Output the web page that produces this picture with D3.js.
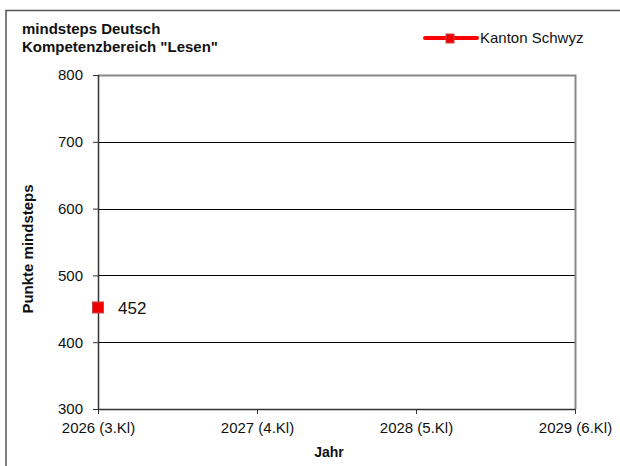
<!DOCTYPE html>
<html><head><meta charset="utf-8">
<script src="https://cdn.jsdelivr.net/npm/d3@7"></script>
<style>body{margin:0;background:#fff}svg{display:block;font-family:"Liberation Sans",Arial,sans-serif}</style>
</head><body><svg id="c" width="620" height="466"></svg>
<script>
const categories = ["2026 (3.Kl)", "2027 (4.Kl)", "2028 (5.Kl)", "2029 (6.Kl)"];
const seriesName = "Kanton Schwyz";
const seriesValues = [452, null, null, null];
const yTicks = [300, 400, 500, 600, 700, 800];
const titleLines = ["mindsteps Deutsch", "Kompetenzbereich \"Lesen\""];

const svg = d3.select("#c");
const L = 98, R = 575, T = 75, B = 409;
const x = d3.scalePoint().domain(categories).range([L, R]);
const y = d3.scaleLinear().domain([300, 800]).range([B, T]);

// outer frame
svg.append("path").attr("d", "M6,466 V10.5 H620").attr("fill", "none").attr("stroke", "#555").attr("stroke-width", 1.5);

// gridlines
svg.append("g").selectAll("line").data(yTicks.filter(d => d > 300 && d < 800)).join("line")
  .attr("x1", L).attr("x2", R).attr("y1", d => Math.round(y(d)) + 0.5).attr("y2", d => Math.round(y(d)) + 0.5)
  .attr("stroke", "#000").attr("stroke-width", 1);

// plot frame top/right (gray)
svg.append("path").attr("d", `M${L},${T + 0.5} H${R + 0.5} V${B}`).attr("fill", "none").attr("stroke", "#888").attr("stroke-width", 2);

// y axis
const yAxis = svg.append("g").attr("transform", `translate(${L},0)`)
  .call(d3.axisLeft(y).tickValues(yTicks).tickSize(5).tickPadding(10));
// x axis
const xAxis = svg.append("g").attr("transform", `translate(0,${B})`)
  .call(d3.axisBottom(x).tickSize(5).tickPadding(8));
[yAxis, xAxis].forEach(g => {
  g.select(".domain").attr("stroke", "#333").attr("stroke-width", 1.5);
  g.selectAll(".tick line").attr("stroke", "#333");
  g.selectAll("text").attr("font-size", 15).attr("fill", "#111").attr("font-family", "Liberation Sans, Arial, sans-serif");
});
xAxis.select(".domain").attr("d", `M${L},0.5H${R}`);
yAxis.select(".domain").attr("d", `M0.5,${T}V${B}`);

// titles
svg.append("text").attr("font-size", 15).attr("font-weight", "bold").attr("fill", "#111")
  .selectAll("tspan").data(titleLines).join("tspan").attr("x", 22).attr("y", (d, i) => 34 + i * 18).text(d => d);

svg.append("text").attr("transform", "translate(33,249) rotate(-90)").attr("text-anchor", "middle")
  .attr("font-size", 15).attr("font-weight", "bold").attr("fill", "#111").text("Punkte mindsteps");
svg.append("text").attr("x", 329).attr("y", 457).attr("text-anchor", "middle")
  .attr("font-size", 14).attr("font-weight", "bold").attr("fill", "#111").text("Jahr");

// series
const pts = categories.map((c, i) => ({c, v: seriesValues[i]})).filter(d => d.v != null);
svg.append("path").datum(pts).attr("fill", "none").attr("stroke", "#f00").attr("stroke-width", 4)
  .attr("d", d3.line().x(d => x(d.c)).y(d => y(d.v)));
svg.selectAll("rect.pt").data(pts).join("rect").attr("class", "pt")
  .attr("x", d => x(d.c) - 5.5).attr("y", d => y(d.v) - 5.5).attr("width", 11).attr("height", 11)
  .attr("fill", "#e00").attr("stroke", "#c44").attr("stroke-width", 1);
svg.selectAll("text.lbl").data(pts).join("text").attr("class", "lbl")
  .attr("x", d => x(d.c) + 20).attr("y", d => y(d.v) + 7).attr("font-size", 17).attr("fill", "#111").text(d => d.v);

// legend
const lg = svg.append("g");
lg.append("line").attr("x1", 425).attr("x2", 477).attr("y1", 38).attr("y2", 38).attr("stroke", "#f00").attr("stroke-width", 4).attr("stroke-linecap", "round");
lg.append("rect").attr("x", 446).attr("y", 34).attr("width", 8).attr("height", 9).attr("fill", "#e00").attr("stroke", "#c44");
lg.append("text").attr("x", 480).attr("y", 43).attr("font-size", 15).attr("fill", "#111").text(seriesName);
</script></body></html>
